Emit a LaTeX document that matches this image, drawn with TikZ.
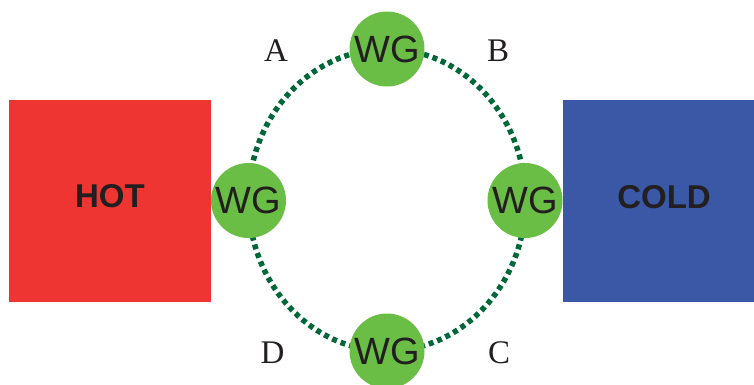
\documentclass[tikz,border=0pt]{standalone}
\usepackage{fontspec}
\setmainfont{Liberation Serif}
\setsansfont{Liberation Sans}
\usepackage{xcolor}
\usepackage{tikz}
\definecolor{hotred}{HTML}{EE3532}
\definecolor{coldblue}{HTML}{3A58A6}
\definecolor{wggreen}{HTML}{6ABD45}
\definecolor{ring}{HTML}{006838}
\definecolor{ink}{HTML}{231F20}
\tikzset{
  bath/.style={inner sep=0pt, text=ink, font=\sffamily\bfseries\fontsize{33}{36}\selectfont},
  wg/.style={circle, fill=wggreen, minimum size=75pt, inner sep=0pt, text=ink,
    font=\sffamily\fontsize{38}{40}\selectfont},
  lbl/.style={text=ink, inner sep=0pt, font=\fontsize{33}{36}\selectfont},
  loop/.style={draw=ring, line width=5.5pt, dash pattern=on 5pt off 4pt}
}

\begin{document}
\begin{tikzpicture}[x=1pt, y=-1pt]
\useasboundingbox (0,0) rectangle (754,384);
\fill[hotred] (9,100) rectangle (211,302);
\fill[coldblue] (563,100) rectangle (754,302);
\node[bath] (hot) at (110,196) {HOT};
\node[bath] (cold) at (664,197) {COLD};

\coordinate (ctr) at (387,200);
\draw[loop] (ctr) ellipse [x radius=138.5, y radius=151];

\node[wg] (wgt) at (387,49) {WG};
\node[wg] (wgl) at (248.5,200.5) {WG};
\node[wg] (wgr) at (525,200.5) {WG};
\node[wg] (wgb) at (387,351) {WG};

\node[lbl] (la) at (276,51) {A};
\node[lbl] (lb) at (498,51) {B};
\node[lbl] (lc) at (499,353) {C};
\node[lbl] (ld) at (272.5,353) {D};
\end{tikzpicture}
\end{document}
